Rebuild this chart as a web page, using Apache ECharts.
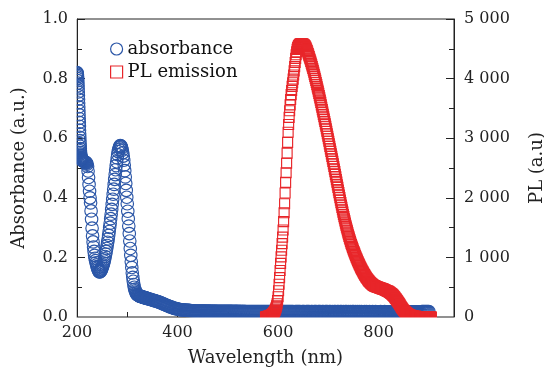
<!DOCTYPE html>
<html><head><meta charset="utf-8">
<script src="https://cdn.jsdelivr.net/npm/echarts/dist/echarts.min.js"></script>
<style>html,body{margin:0;padding:0;background:#fff}#c{width:544px;height:374px}</style>
</head><body><div id="c"></div>
<script>
// ---------- data ----------
// Absorbance, segment A: 200-210 nm, every 0.25 nm
const absStartA = 200, absStepA = 0.25;
const absA = [.820,.818,.815,.811,.806,.800,.793,.785,.776,.766,
 .755,.743,.731,.718,.705,.692,.679,.666,.653,.640,
 .627,.615,.603,.592,.582,.573,.565,.558,.552,.547,
 .543,.540,.537,.535,.533,.531,.530,.529,.528,.527,
 .526];
// Absorbance, segment B: 211-340 nm, every 1 nm
const absStartB = 211, absStepB = 1;
const absB = [.525,.524,.523,.522,.521,.520,.519,.518,.516,.513,
 .505,.490,.468,.445,.422,.400,.383,.356,.328,.298,
 .272,.252,.235,.220,.207,.197,.189,.182,.175,.169,
 .164,.159,.155,.152,.151,.152,.154,.157,.161,.165,
 .170,.175,.181,.188,.195,.203,.211,.220,.230,.240,
 .251,.262,.274,.287,.301,.315,.330,.345,.361,.378,
 .395,.412,.429,.445,.462,.478,.494,.508,.521,.534,
 .545,.555,.562,.568,.572,.575,.574,.572,.567,.560,
 .551,.540,.526,.510,.491,.470,.448,.425,.402,.380,
 .355,.330,.305,.280,.255,.230,.207,.185,.166,.148,
 .133,.120,.109,.100,.093,.088,.084,.080,.077,.075,
 .074,.073,.072,.071,.070,.069,.069,.068,.068,.067,
 .067,.066,.066,.065,.065,.064,.064,.063,.063,.062];
// Absorbance, segment C: 342-900 nm, every 2 nm
const absStartC = 342, absStepC = 2;
const absC = [.061,.060,.059,.058,.057,.056,.055,.054,.053,.052,
 .051,.049,.048,.047,.045,.044,.042,.041,.039,.038,
 .037,.035,.034,.033,.032,.030,.029,.028,.028,.027,
 .026,.025,.025,.024,.024,.023,.023,.023,.022,.022,
 .022,.022,.021,.021,.021,.021,.020,.020,.020,.020,
 .020,.020,.020,.020,.020,.020,.020,.020,.019,.020,
 .020,.019,.020,.019,.019,.019,.020,.019,.019,.019,
 .019,.019,.019,.019,.019,.019,.019,.019,.019,.019,
 .019,.019,.019,.019,.019,.018,.019,.019,.019,.018,
 .019,.018,.019,.018,.018,.019,.018,.018,.018,.018,
 .018,.018,.018,.018,.018,.018,.018,.018,.018,.018,
 .018,.018,.018,.018,.018,.018,.018,.018,.018,.018,
 .018,.018,.018,.018,.018,.018,.018,.018,.018,.018,
 .018,.018,.018,.018,.018,.018,.018,.018,.018,.018,
 .018,.018,.018,.018,.018,.017,.018,.018,.018,.018,
 .018,.018,.017,.018,.018,.018,.017,.018,.018,.018,
 .018,.017,.018,.018,.017,.018,.018,.018,.017,.018,
 .018,.018,.017,.018,.018,.017,.018,.018,.018,.017,
 .018,.018,.017,.018,.017,.018,.018,.017,.018,.018,
 .017,.018,.018,.017,.018,.017,.018,.018,.017,.018,
 .017,.018,.017,.018,.018,.017,.018,.017,.018,.017,
 .018,.017,.018,.017,.017,.018,.017,.018,.017,.017,
 .018,.017,.017,.018,.017,.017,.018,.017,.017,.017,
 .017,.018,.017,.017,.017,.018,.017,.017,.017,.017,
 .017,.017,.018,.017,.017,.017,.017,.017,.018,.017,
 .017,.017,.017,.017,.017,.017,.017,.017,.017,.017,
 .017,.017,.017,.017,.017,.017,.017,.017,.017,.017,
 .017,.017,.018,.018,.018,.018,.018,.018,.018,.018];
// PL emission: 575-905 nm, every 1 nm
const plStart = 575, plStep = 1;
const plValues = [0,2,4,6,8,10,12,15,18,22,
 26,30,36,42,50,58,68,80,95,112,
 132,156,186,222,275,340,440,550,660,780,
 900,1010,1120,1230,1340,1460,1600,1750,1900,2080,
 2260,2420,2580,2750,2930,3100,3230,3350,3460,3560,
 3650,3730,3800,3870,3930,3990,4060,4130,4200,4270,
 4340,4400,4450,4490,4520,4540,4555,4565,4575,4580,
 4585,4585,4585,4585,4580,4578,4572,4565,4555,4545,
 4530,4512,4492,4470,4446,4420,4394,4368,4342,4316,
 4290,4260,4230,4200,4170,4140,4106,4072,4038,4004,
 3970,3934,3898,3862,3826,3790,3752,3714,3676,3638,
 3600,3560,3520,3480,3440,3400,3360,3320,3280,3240,
 3200,3158,3116,3074,3032,2990,2948,2906,2864,2822,
 2780,2738,2696,2654,2612,2570,2526,2482,2438,2394,
 2350,2306,2262,2218,2174,2130,2088,2046,2004,1962,
 1920,1880,1840,1800,1760,1720,1684,1648,1612,1576,
 1540,1508,1476,1444,1412,1380,1352,1324,1296,1268,
 1240,1216,1192,1168,1144,1120,1098,1076,1054,1032,
 1010,990,970,950,930,910,892,874,856,838,
 820,804,788,772,756,740,726,712,698,684,
 670,658,646,634,622,610,601,592,583,574,
 565,558,551,544,537,530,526,522,518,514,
 510,507,504,501,498,495,492,489,486,483,
 480,477,474,471,468,465,461,457,453,449,
 445,441,437,433,429,425,419,413,407,401,
 395,387,379,371,363,355,344,333,322,311,
 300,288,276,264,252,240,226,212,198,184,
 170,158,146,134,122,110,102,94,86,78,
 70,64,58,52,46,40,36,33,30,27,
 24,22,20,18,16,14,13,12,11,10,
 9,8,8,7,7,6,6,5,5,5,
 4,4,4,3,3,3,3,2,2,2,
 2,1,1,1,1,0,0,0,0,0,
 0];
const xTickLabels = [200, 400, 600, 800];
const seriesNames = ['absorbance', 'PL emission'];

// ---------- build ----------
function seg(start, step, vals) { return vals.map((v, i) => [start + i * step, v]); }
const absData = [].concat(seg(absStartA, absStepA, absA), seg(absStartB, absStepB, absB), seg(absStartC, absStepC, absC));
const plData = seg(plStart, plStep, plValues);

const BLUE = '#2b56a7', RED = '#e8262a', INK = '#222';
const FONT = 'DejaVu Serif';
const G = {left: 77, right: 90, top: 19, bottom: 57};
const W = 544, H = 374;

const chart = echarts.init(document.getElementById('c'), null, {renderer: 'canvas'});
const axisCommon = {
  axisLine: {show: true, lineStyle: {color: INK, width: 1}},
  axisTick: {show: true, inside: true, length: 8, lineStyle: {color: INK, width: 1}},
  splitLine: {show: false},
  axisLabel: {color: INK, fontFamily: FONT, fontSize: 16},
  nameTextStyle: {color: INK, fontFamily: FONT, fontSize: 18}
};
chart.setOption({
  animation: false,
  backgroundColor: '#fff',
  grid: {left: G.left, right: G.right, top: G.top, bottom: G.bottom, show: true, borderColor: INK, borderWidth: 1,
         backgroundColor: 'transparent', containLabel: false, outerBoundsMode: 'none'},
  legend: {
    orient: 'vertical', left: 105, top: 35, itemWidth: 12, itemHeight: 12, itemGap: 5,
    textStyle: {color: '#111', fontFamily: FONT, fontSize: 18},
    selectedMode: false,
    data: [
      {name: seriesNames[0], icon: 'circle', itemStyle: {color: 'rgba(0,0,0,0)', borderColor: BLUE, borderWidth: 1.2}},
      {name: seriesNames[1], icon: 'rect', itemStyle: {color: 'rgba(0,0,0,0)', borderColor: RED, borderWidth: 1.2}}
    ]
  },
  xAxis: [
    Object.assign({}, axisCommon, {
      type: 'value', min: 200, max: 950, interval: 100, position: 'bottom',
      name: 'Wavelength (nm)', nameLocation: 'middle', nameGap: 32,
      axisTick: {show: true, inside: true, length: 5, lineStyle: {color: INK, width: 1}},
      axisLabel: {color: INK, fontFamily: FONT, fontSize: 16, margin: 8, showMaxLabel: false,
        formatter: v => xTickLabels.indexOf(v) >= 0 ? String(v) : ''}
    }),
    {
      type: 'value', min: 200, max: 950, interval: 200, position: 'bottom', gridIndex: 0,
      axisLine: {show: false}, axisLabel: {show: false}, splitLine: {show: false},
      axisTick: {show: true, inside: true, length: 8, lineStyle: {color: INK, width: 1}}
    }
  ],
  yAxis: [
    Object.assign({}, axisCommon, {
      type: 'value', min: 0, max: 1, interval: 0.2, position: 'left',
      name: 'Absorbance (a.u.)', nameLocation: 'middle', nameGap: 49, nameRotate: 90,
      minorTick: {show: true, splitNumber: 2, length: 5, lineStyle: {color: INK, width: 1}},
      axisLabel: {color: INK, fontFamily: FONT, fontSize: 16, margin: 9, formatter: v => v.toFixed(1)}
    }),
    Object.assign({}, axisCommon, {
      type: 'value', min: 0, max: 5000, interval: 1000, position: 'right',
      name: 'PL (a.u)', nameLocation: 'middle', nameGap: 74, nameRotate: 90,
      minorTick: {show: true, splitNumber: 2, length: 5, lineStyle: {color: INK, width: 1}},
      axisLabel: {color: INK, fontFamily: FONT, fontSize: 16, margin: 10,
        formatter: v => v === 0 ? '0' : (Math.round(v / 1000) + ' 000')}
    })
  ],
  series: [
    {name: seriesNames[0], type: 'scatter', xAxisIndex: 0, yAxisIndex: 0, data: absData,
     symbol: 'circle', symbolSize: 12.5, silent: true, z: 2,
     itemStyle: {color: 'rgba(0,0,0,0)', borderColor: BLUE, borderWidth: 1.15, opacity: 1},
     emphasis: {disabled: true}},
    {name: seriesNames[1], type: 'scatter', xAxisIndex: 0, yAxisIndex: 1, data: plData,
     symbol: 'rect', symbolSize: 10, silent: true, z: 3,
     itemStyle: {color: 'rgba(0,0,0,0)', borderColor: RED, borderWidth: 1.15, opacity: 1},
     emphasis: {disabled: true}}
  ],
  graphic: [
    // masks clipping symbols that overflow the plot frame
    {type: 'rect', z: 50, silent: true, shape: {x: G.left - 8, y: 0, width: 7.5, height: H - G.bottom + 0.5}, style: {fill: '#fff'}},
    {type: 'rect', z: 50, silent: true, shape: {x: G.left - 8, y: H - G.bottom + 0.5, width: W - G.left - G.right + 16, height: 7}, style: {fill: '#fff'}}
  ]
});
</script></body></html>
